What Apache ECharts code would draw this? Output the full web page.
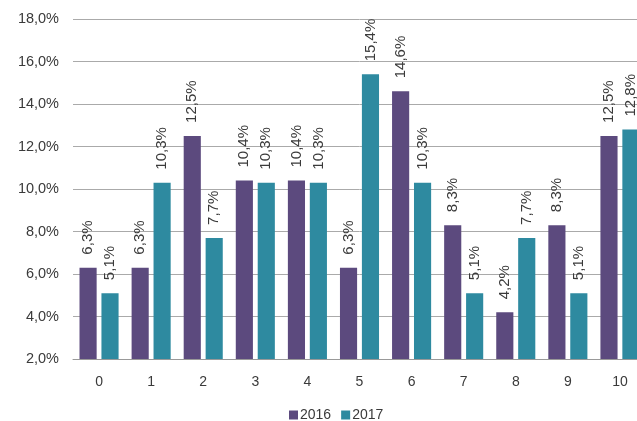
<!DOCTYPE html>
<html><head><meta charset="utf-8">
<script src="https://cdn.jsdelivr.net/npm/echarts@6/dist/echarts.min.js"></script>
<style>html,body{margin:0;padding:0;background:#fff;overflow:hidden}#c{width:646px;height:421px}</style>
</head><body><div id="c"></div>
<script>
const categories = ['0','1','2','3','4','5','6','7','8','9','10'];
const s2016 = [6.3, 6.3, 12.5, 10.4, 10.4, 6.3, 14.6, 8.3, 4.2, 8.3, 12.5];
const s2017 = [5.1, 10.3, 7.7, 10.3, 10.3, 15.4, 10.3, 5.1, 7.7, 5.1, 12.8];
const seriesNames = ['2016', '2017'];
const fmt = v => v.toFixed(1).replace('.', ',') + '%';
const chart = echarts.init(document.getElementById('c'));
const lbl = {show:true, position:'top', rotate:90, align:'left', verticalAlign:'middle', distance:13,
  color:'#3a3a3a', fontSize:15, fontFamily:'Liberation Sans, Arial, sans-serif',
  formatter: p => fmt(p.value)};
chart.setOption({
  animation:false,
  textStyle:{fontFamily:'Liberation Sans, Arial, sans-serif'},
  grid:{left:73, right:0, top:19, bottom:62},
  legend:{top:403, left:284, itemWidth:9, itemHeight:9, itemGap:10, icon:'rect',
    textStyle:{fontSize:14, color:'#3a3a3a', padding:[0,0,0,-3]}, data:seriesNames},
  xAxis:{type:'category', data:categories, axisTick:{show:false},
    axisLine:{lineStyle:{color:'#999'}}, axisLabel:{color:'#3a3a3a', fontSize:14, margin:16}},
  yAxis:{type:'value', min:2, max:18, interval:2, axisLine:{show:false}, axisTick:{show:false},
    splitLine:{lineStyle:{color:'#aaa'}},
    axisLabel:{color:'#3a3a3a', fontSize:14.5, margin:14, formatter: v => fmt(v)}},
  series:[
    {name:seriesNames[0], type:'bar', data:s2016, itemStyle:{color:'#5c4a7e'}, barGap:'28%', barCategoryGap:'25%', label:lbl},
    {name:seriesNames[1], type:'bar', data:s2017, itemStyle:{color:'#2e8aa0'}, label:lbl}
  ]
});
</script></body></html>
